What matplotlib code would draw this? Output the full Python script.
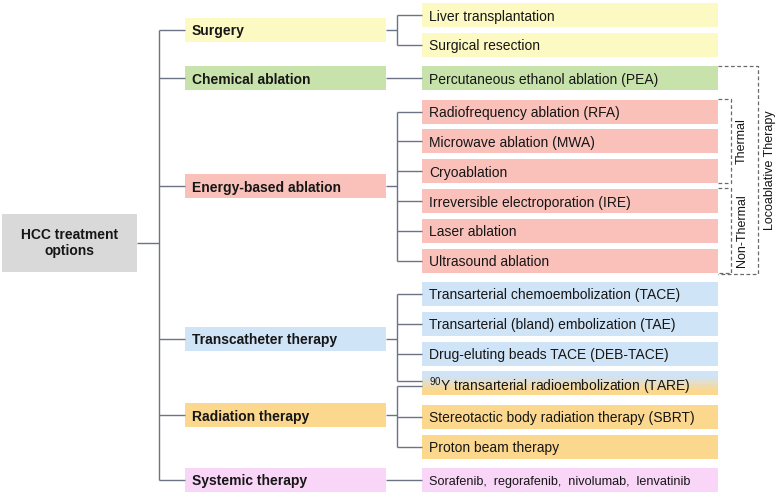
import numpy as np
import matplotlib
matplotlib.use("Agg")
import matplotlib.pyplot as plt
from matplotlib.patches import Rectangle

plt.rcParams['font.family'] = ['Liberation Sans', 'DejaVu Sans']
plt.rcParams['mathtext.fontset'] = 'custom'
plt.rcParams['mathtext.rm'] = 'Liberation Sans'

# tree content
root_label = "HCC treatment\noptions"
categories = ["Surgery", "Chemical ablation", "Energy-based ablation",
              "Transcatheter therapy", "Radiation therapy", "Systemic therapy"]
cat_colors = ["#fdf9c2", "#c8e2ab", "#f9c1ba", "#d0e4f8", "#fcd88f", "#f9d6f8"]
leaves = ["Liver transplantation", "Surgical resection",
          "Percutaneous ethanol ablation (PEA)",
          "Radiofrequency ablation (RFA)", "Microwave ablation (MWA)", "Cryoablation",
          "Irreversible electroporation (IRE)", "Laser ablation", "Ultrasound ablation",
          "Transarterial chemoembolization (TACE)", "Transarterial (bland) embolization (TAE)",
          "Drug-eluting beads TACE (DEB-TACE)",
          r"$\mathregular{^{90}}$Y transarterial radioembolization (TARE)",
          "Stereotactic body radiation therapy (SBRT)", "Proton beam therapy",
          "Sorafenib,  regorafenib,  nivolumab,  lenvatinib"]
leaf_sizes = [10] * 15 + [9.1]
# leaves belonging to each category (TARE is shared by two)
groups = [[0, 1], [2], [3, 4, 5, 6, 7, 8], [9, 10, 11, 12], [12, 13, 14], [15]]
shared_leaf = 12
# dashed side brackets: (label, first leaf, last leaf)
brackets = [("Thermal", 3, 5), ("Non-Thermal", 6, 8)]
outer_bracket = ("Locoablative Therapy", 2, 8)

line_col = "#6c7385"
txt_col = "#161616"

fig = plt.figure(figsize=(7.78, 4.97), dpi=100)
ax = fig.add_axes([0, 0, 1, 1])
ax.set_xlim(0, 778)
ax.set_ylim(497, 0)
ax.axis("off")

# vertical layout of the leaf rows
step, gap, y0 = 29.8, 3.6, 15
gap_before = {2, 3, 9, 13, 15}
leaf_y = []
ng = 0
for i in range(len(leaves)):
    if i in gap_before:
        ng += 1
    leaf_y.append(y0 + i * step + ng * gap)

bh = 24
root_x0, root_x1, root_y = 2, 137, 243
trunk_x = 159
cat_x0, cat_x1 = 185, 386
br_x = 397
leaf_x0, leaf_x1 = 422, 718

cat_y = [(leaf_y[g[0]] + leaf_y[g[-1]]) / 2 for g in groups]


def hline(x0, x1, y):
    ax.plot([x0, x1], [y, y], color=line_col, lw=1.0, solid_capstyle="butt")


def vline(x, y0_, y1_):
    ax.plot([x, x], [y0_, y1_], color=line_col, lw=1.0, solid_capstyle="butt")


# root
ax.add_patch(Rectangle((root_x0, 214), root_x1 - root_x0, 58, color="#d9d9d9", lw=0))
ax.text((root_x0 + root_x1) / 2, root_y, root_label, ha="center", va="center",
        fontsize=10, fontweight="bold", color=txt_col, linespacing=1.2)
hline(root_x1, trunk_x, root_y)
vline(trunk_x, cat_y[0], cat_y[-1])

# categories and leaf connectors
for gi, (name, col, g) in enumerate(zip(categories, cat_colors, groups)):
    y = cat_y[gi]
    hline(trunk_x, cat_x0, y)
    ax.add_patch(Rectangle((cat_x0, y - bh / 2), cat_x1 - cat_x0, bh, color=col, lw=0))
    ax.text(cat_x0 + 7, y, name, ha="left", va="center_baseline", fontsize=10,
            fontweight="bold", color=txt_col)
    if len(g) == 1:
        hline(cat_x1, leaf_x0, y)
        continue
    ys = []
    for li in g:
        ly = leaf_y[li]
        if li == shared_leaf:
            ly += -2 if g[-1] == li else 3
        ys.append(ly)
        hline(br_x, leaf_x0, ly)
    hline(cat_x1, br_x, y)
    vline(br_x, min(ys), max(ys))

# leaf boxes
leaf_col = {}
for g, col in zip(groups, cat_colors):
    for li in g:
        leaf_col.setdefault(li, []).append(col)
for i, (name, y) in enumerate(zip(leaves, leaf_y)):
    cols = leaf_col[i]
    if len(cols) == 1:
        ax.add_patch(Rectangle((leaf_x0, y - bh / 2), leaf_x1 - leaf_x0, bh,
                               color=cols[0], lw=0))
    else:
        c0 = np.array(matplotlib.colors.to_rgb(cols[0]))
        c1 = np.array(matplotlib.colors.to_rgb(cols[1]))
        t = np.clip((np.linspace(0, 1, 50) - 0.2) / 0.6, 0, 1)[:, None]
        grad = (c0 * (1 - t) + c1 * t)[:, None, :]
        ax.imshow(grad, extent=(leaf_x0, leaf_x1, y + bh / 2, y - bh / 2),
                  aspect="auto", interpolation="bilinear", zorder=1)
    ax.text(leaf_x0 + 7, y, name, ha="left", va="center_baseline",
            fontsize=leaf_sizes[i], color=txt_col, zorder=3)

# dashed brackets on the right
dash = dict(color="#6a6a6a", lw=0.9, linestyle=(0, (3, 2)))
inner_x = 731
for label, a, b in brackets:
    top, bot = leaf_y[a] - bh / 2 - 1, leaf_y[b] + bh / 2
    ax.plot([leaf_x1, inner_x, inner_x, leaf_x1], [top, top, bot, bot], **dash)
    ax.text(inner_x + 11, (top + bot) / 2, label, rotation=90, ha="center",
            va="center", fontsize=9, color=txt_col)
label, a, b = outer_bracket
outer_x = 758
top, bot = leaf_y[a] - bh / 2, leaf_y[b] + bh / 2 + 1
ax.plot([leaf_x1, outer_x, outer_x, leaf_x1], [top, top, bot, bot], **dash)
ax.text(outer_x + 12, (top + bot) / 2, label, rotation=90, ha="center",
        va="center", fontsize=9, color=txt_col)

fig.savefig("out.png", dpi=100)
